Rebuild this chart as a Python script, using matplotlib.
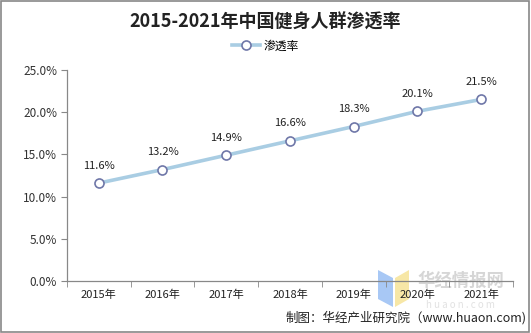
import matplotlib.pyplot as plt
from matplotlib.patches import Rectangle, Polygon

plt.rcParams['font.family'] = ['Noto Sans CJK SC', 'DejaVu Sans']

years = ['2015年', '2016年', '2017年', '2018年', '2019年', '2020年', '2021年']
rate = [11.6, 13.2, 14.9, 16.6, 18.3, 20.1, 21.5]
y_ticks = [0, 5, 10, 15, 20, 25]

W, H = 531, 333
fig = plt.figure(figsize=(W / 100, H / 100), dpi=100)
ax = fig.add_axes([0.126, 0.156, 0.840, 0.634], zorder=2)
ax.patch.set_visible(False)

x = list(range(len(years)))
ax.plot(x, rate, color='#a9cde3', lw=2.6, marker='o', ms=6.5,
        mfc='white', mec='#6f77a8', mew=1.2, label='渗透率', zorder=3)
for xi, v in zip(x, rate):
    ax.annotate('%.1f%%' % v, (xi, v), xytext=(0, 9), textcoords='offset points',
                ha='center', va='bottom', fontsize=8, color='#222222')

ax.set_xlim(-0.5, len(years) - 0.5)
ax.set_ylim(0, 25)
ax.set_yticks(y_ticks)
ax.set_yticklabels(['%.1f%%' % t for t in y_ticks], fontsize=8.5, color='#333333')
ax.set_xticks(x)
ax.set_xticklabels(years, fontsize=8, color='#222222')
ax.tick_params(axis='x', length=0, pad=6)
ax.set_xticks([i + 0.5 for i in range(-1, len(years))], minor=True)
ax.tick_params(axis='x', which='minor', length=4, color='#888888', direction='out')
ax.tick_params(axis='y', length=4, color='#888888', pad=3)
for s in ['top', 'right']:
    ax.spines[s].set_visible(False)
for s in ['left', 'bottom']:
    ax.spines[s].set_color('#888888')
    ax.spines[s].set_linewidth(0.9)

fig.text(0.5, 0.935, '2015-2021年中国健身人群渗透率', ha='center', va='center',
         fontsize=13, fontweight='bold', color='#222222')
fig.legend(loc='center', bbox_to_anchor=(0.5, 0.862), frameon=False, fontsize=8.5,
           handlelength=2.4, handletextpad=0.3)


def px(pts):
    return [(a / W, 1 - b / H) for a, b in pts]


# watermark logo and text, behind the axes
fig.patches.append(Polygon(px([(378, 270), (393, 278), (393, 307), (378, 299)]),
                           closed=True, transform=fig.transFigure,
                           facecolor='#a8c8f5', edgecolor='none', zorder=0))
fig.patches.append(Polygon(px([(395, 278), (409, 270), (409, 299), (395, 307)]),
                           closed=True, transform=fig.transFigure,
                           facecolor='#f7e7a6', edgecolor='none', zorder=0))
fig.text(0.868, 1 - 281 / H, '华经情报网', ha='center', va='center', fontsize=12.5,
         fontweight='bold', color='#d6d6d6', zorder=0)
fig.text(0.868, 1 - 305 / H, 'h u a o n . c o m', ha='center', va='center', fontsize=7,
         color='#e2e2e2', zorder=0)

fig.text(0.992, 0.045, '制图：华经产业研究院（www.huaon.com)', ha='right', va='center',
         fontsize=9, color='#222222')

fig.patches.append(Rectangle((0.002, 0.004), 0.994, 0.992, transform=fig.transFigure,
                             fill=False, edgecolor='#888888', lw=1.2))

fig.savefig('out.png', dpi=100)
